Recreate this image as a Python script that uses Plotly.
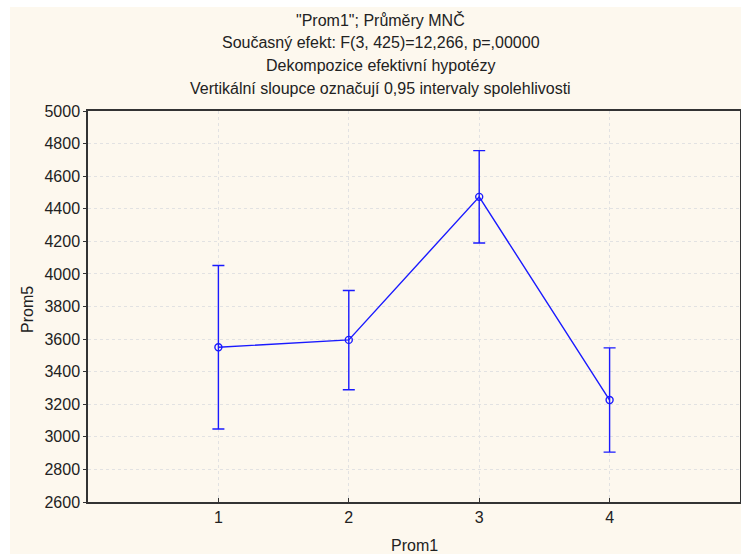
import plotly.graph_objects as go

categories = [1, 2, 3, 4]
means = [3550, 3595, 4473, 3226]
ci_upper = [4052, 3898, 4757, 3546]
ci_lower = [3048, 3289, 4190, 2906]
y_ticks = list(range(2600, 5001, 200))
title_lines = [
    '"Prom1"; Průměry MNČ',
    'Současný efekt: F(3, 425)=12,266, p=,00000',
    'Dekompozice efektivní hypotézy',
    'Vertikální sloupce označují 0,95 intervaly spolehlivosti',
]

err_plus = [u - m for u, m in zip(ci_upper, means)]
err_minus = [m - l for m, l in zip(means, ci_lower)]

FONT = "Arial, Liberation Sans, sans-serif"
BLUE = "#1a1aff"
TXT = "#222222"
W, H = 741, 557
L, R, T, B = 88, 1, 111, 55
PW, PH = W - L - R, H - T - B


def px_x(px):
    return (px - L) / PW


def px_y(py):
    return (H - B - py) / PH


fig = go.Figure()
fig.add_trace(go.Scatter(
    x=categories, y=means, mode="lines+markers",
    line=dict(color=BLUE, width=1.4),
    marker=dict(symbol="circle-open", size=7, color=BLUE, line=dict(width=1.4, color=BLUE)),
    error_y=dict(type="data", symmetric=False, array=err_plus, arrayminus=err_minus,
                 color=BLUE, thickness=1.4, width=6),
    showlegend=False,
))

# cream panel behind the chart
fig.add_shape(type="rect", xref="paper", yref="paper",
              x0=px_x(10), x1=px_x(745), y0=px_y(554), y1=px_y(7),
              fillcolor="#fdf8ee", line=dict(width=0), layer="below")

annotations = []
for line, py in zip(title_lines, [20, 43, 66, 88]):
    annotations.append(dict(text=line, xref="paper", yref="paper", x=px_x(380.5), y=px_y(py),
                            xanchor="center", yanchor="middle", showarrow=False,
                            font=dict(family=FONT, size=16, color=TXT)))
annotations.append(dict(text="Prom1", xref="paper", yref="paper", x=0.5, y=px_y(545),
                        xanchor="center", yanchor="middle", showarrow=False,
                        font=dict(family=FONT, size=16, color=TXT)))
annotations.append(dict(text="Prom5", xref="paper", yref="paper", x=px_x(27), y=px_y(310),
                        xanchor="center", yanchor="middle", showarrow=False, textangle=-90,
                        font=dict(family=FONT, size=16, color=TXT)))

fig.update_layout(
    width=W, height=H,
    margin=dict(l=L, r=R, t=T, b=B, autoexpand=False),
    paper_bgcolor="white", plot_bgcolor="white",
    font=dict(family=FONT, size=16, color=TXT),
    annotations=annotations,
    xaxis=dict(range=[0, 5], tickvals=categories, ticktext=[str(c) for c in categories],
               showgrid=True, gridcolor="#e2e2e2", griddash="dot", gridwidth=1,
               showline=True, linecolor="#333333", linewidth=1.5, mirror=True,
               ticks="inside", ticklen=4, tickcolor="#333333",
               zeroline=False, automargin=False,
               tickfont=dict(size=16)),
    yaxis=dict(range=[2600, 5000], tickvals=y_ticks,
               showgrid=True, gridcolor="#e2e2e2", griddash="dot", gridwidth=1,
               showline=True, linecolor="#333333", linewidth=1.5, mirror=True,
               ticks="outside", ticklen=3, tickcolor="#333333",
               zeroline=False, automargin=False,
               tickfont=dict(size=16)),
)

fig.write_html(
    "out.html",
    config={"displayModeBar": False},
    post_script="document.body.style.margin='0';document.documentElement.style.overflow='hidden';document.body.style.overflow='hidden';",
)
